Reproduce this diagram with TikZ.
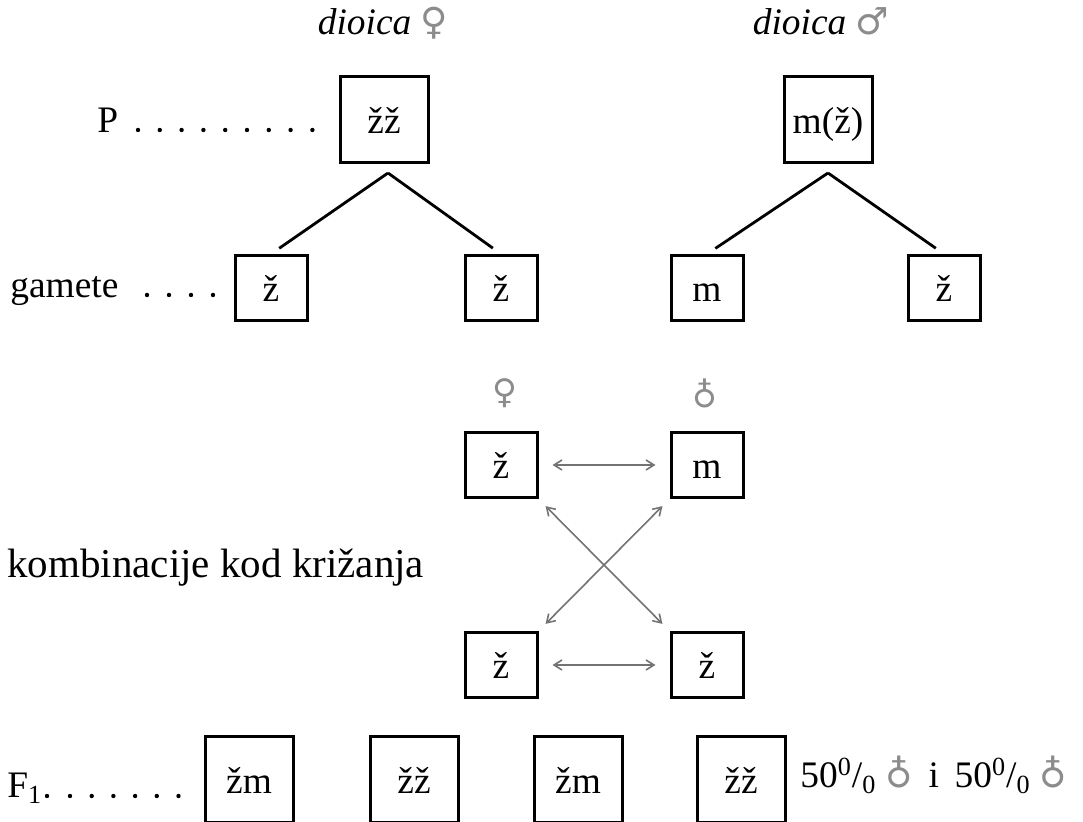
\documentclass[tikz,border=0pt]{standalone}
\usepackage{fontspec}
\setmainfont{Liberation Serif}
\newfontfamily\symfont{DejaVu Sans}
\usetikzlibrary{arrows.meta}

\tikzset{
  bigbox/.style={draw, line width=1.5pt, minimum width=44pt, minimum height=43pt, inner sep=0pt,
    text height=0.7em, text depth=0pt},
  gambox/.style={draw, line width=1.5pt, minimum width=36pt, minimum height=32.5pt, inner sep=0pt,
    text height=0.7em, text depth=0pt},
  rowlabel/.style={anchor=base west, inner sep=0pt},
  branch/.style={line width=1.4pt, shorten >=5pt},
  pairing/.style={draw=black!55, line width=0.8pt, shorten <=7pt, shorten >=7pt,
    {Straight Barb[length=4pt,width=5pt]}-{Straight Barb[length=4pt,width=5pt]}},
  sexsym/.style={text=black!45, font=\symfont\fontsize{17}{20}\selectfont},
}
\newcommand{\fem}{{\symfont\color{black!45}♀}}
\newcommand{\mal}{{\symfont\color{black!45}♂}}
\newcommand{\her}{{\symfont\color{black!45}♁}}

\begin{document}
\begin{tikzpicture}[x=0.5pt, y=-0.5pt]
\fontsize{18.7}{22}\selectfont
\useasboundingbox (0,0) rectangle (1083,822);
%\draw[help lines, step=50] (0,0) grid (1083,822);
% parents
\node [anchor=base] (femtitle) at (383,35) {\textit{dioica} \fem};
\node [anchor=base] (maltitle) at (821,35) {\textit{dioica} \mal};
\node [rowlabel] (Plabel) at (97,133) {P};
\foreach \i in {0,...,8} \fill (138+21.8*\i,130) circle (1.1pt);
\node [bigbox] (PF) at (384,120) {žž};
\node [bigbox] (PM) at (828,120) {m(ž)};
% gametes
\node [rowlabel] (Glabel) at (10,298) {gamete};
\foreach \i in {0,...,3} \fill (147+22*\i,295) circle (1.1pt);
\node [gambox] (G1) at (271,288) {ž};
\node [gambox] (G2) at (501,288) {ž};
\node [gambox] (G3) at (707,288) {m};
\node [gambox] (G4) at (944,288) {ž};
\coordinate (PFfork) at (388,173);
\coordinate (PMfork) at (828,173);
\draw [branch] (PFfork) -- (G1.north);
\draw [branch] (PFfork) -- (G2.north);
\draw [branch] (PMfork) -- (G3.north);
\draw [branch] (PMfork) -- (G4.north);
% crossing
\node [sexsym] (Xfem) at (505,393) {♀};
\node [sexsym] (Xmal) at (705,393) {♁};
\node [gambox] (X1) at (501,465) {ž};
\node [gambox] (X2) at (707,465) {m};
\node [gambox] (X3) at (501,665) {ž};
\node [gambox] (X4) at (707,665) {ž};
\node [rowlabel, font=\fontsize{20.5}{24}\selectfont] (Klabel) at (7,578) {kombinacije kod križanja};
\draw [pairing] (X1) -- (X2);
\draw [pairing] (X3) -- (X4);
\draw [pairing, shorten <=5pt, shorten >=5pt] (X1.south east) -- (X4.north west);
\draw [pairing, shorten <=5pt, shorten >=5pt] (X3.north east) -- (X2.south west);
% F1
\node [rowlabel] (Flabel) at (7,798) {F\textsubscript{1}};
\fill (47,796) circle (1.1pt);
\foreach \i in {0,...,5} \fill (70+21.7*\i,796) circle (1.1pt);
\node [bigbox] (F1) at (249,780) {žm};
\node [bigbox] (F2) at (414,780) {žž};
\node [bigbox] (F3) at (578,780) {žm};
\node [bigbox] (F4) at (741,780) {žž};
\node [rowlabel] (ratio) at (800,788) {50\textsuperscript{0}/\textsubscript{0} \her\ \,i\, 50\textsuperscript{0}/\textsubscript{0} \her};
\end{tikzpicture}
\end{document}
